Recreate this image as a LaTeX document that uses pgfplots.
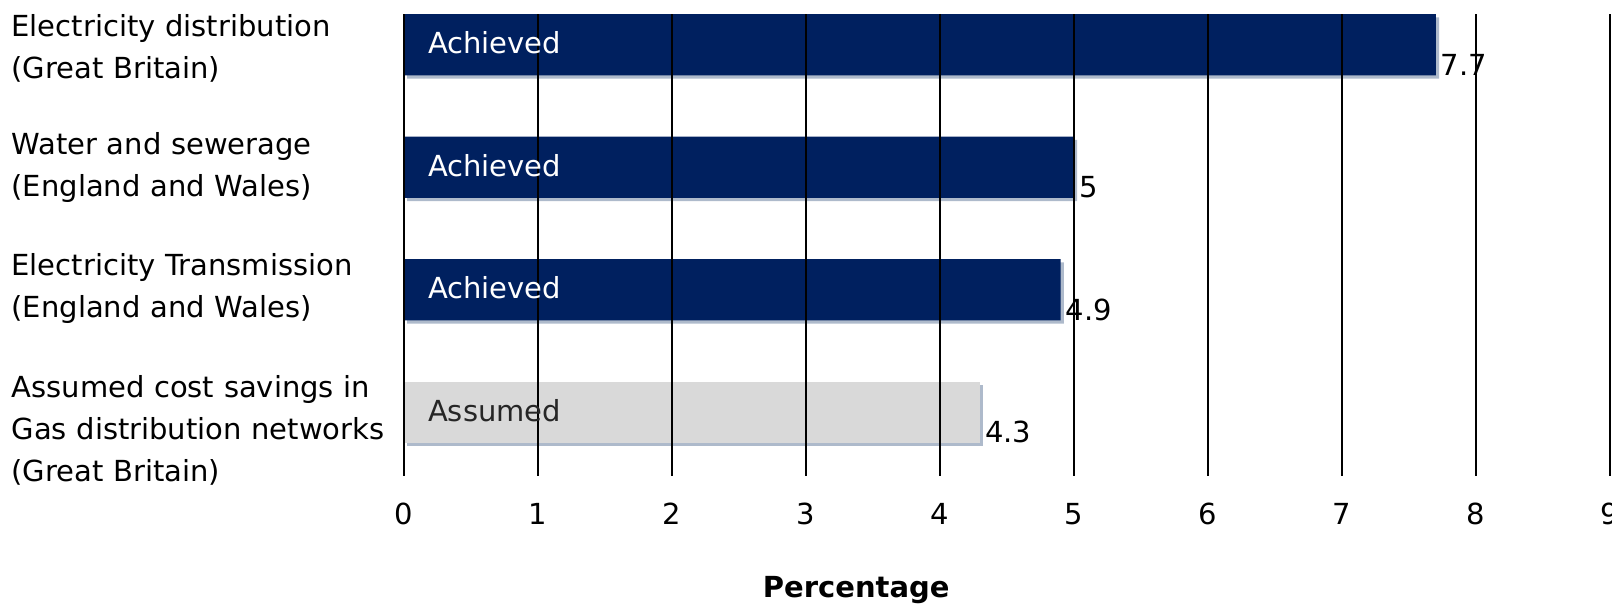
\documentclass[border=0pt]{standalone}
\usepackage{pgfplots}
\pgfplotsset{compat=1.18}
\usepackage{fontspec}
\setmainfont{DejaVu Sans}
\usetikzlibrary{shadows}
\definecolor{navy}{HTML}{00205F}
\definecolor{lgrey}{HTML}{D9D9D9}
\definecolor{shad}{HTML}{AEBACB}
\begin{document}
\begin{tikzpicture}[font=\fontsize{14.5}{17}\selectfont]
\begin{axis}[name=ax, scale only axis, width=603pt, height=231pt,
  xbar, bar width=0.5, xmin=0, xmax=9, ymin=-0.52, ymax=3.252,
  /pgf/number format/assume math mode=true,
  xtick={0,1,...,9}, ytick={-0.15,1.01,2.0,2.97},
  yticklabels={{Assumed cost savings in\\Gas distribution networks\\(Great Britain)},
               {Electricity Transmission\\(England and Wales)},
               {Water and sewerage\\(England and Wales)},
               {Electricity distribution\\(Great Britain)}},
  yticklabel style={align=left, text width=192pt, inner sep=0pt, anchor=east, xshift=-4pt,
                    font=\fontsize{14.5}{21}\selectfont},
  xticklabel style={yshift=-10pt, font=\fontsize{14.5}{17}\selectfont},
  major tick length=0pt,
  axis line style={draw=none},
  xmajorgrids, major grid style={black, line width=0.9pt},
  axis on top,
  xlabel={\bfseries Percentage},
  xlabel style={at={(axis description cs:0.375,0)}, anchor=center, yshift=-57pt, font=\fontsize{14.5}{17}\selectfont},
  nodes near coords,
  nodes near coords style={anchor=west, yshift=-10pt, xshift=-1pt, text=black, font=\fontsize{14.5}{17}\selectfont},
]
\addplot[fill=navy, draw=none, bar shift=0pt,
  drop shadow={shadow xshift=1.6pt, shadow yshift=-1.6pt, fill=shad, opacity=1}]
  coordinates {(7.7,3) (5,2) (4.9,1)};
\addplot[fill=lgrey, draw=none, bar shift=0pt,
  drop shadow={shadow xshift=1.6pt, shadow yshift=-1.6pt, fill=shad, opacity=1}]
  coordinates {(4.3,0)};
\coordinate (o) at (rel axis cs:0,0);
\coordinate (tr) at (rel axis cs:1,1);
\coordinate (l3) at (axis cs:0,3);
\coordinate (l2) at (axis cs:0,2);
\coordinate (l1) at (axis cs:0,1);
\coordinate (l0) at (axis cs:0,0);
\end{axis}
\foreach \c in {l3,l2,l1}{\node[anchor=west, text=white, xshift=8.5pt, yshift=1pt] at (\c) {Achieved};}
\node[anchor=west, text=black!85, xshift=8.5pt, yshift=1pt] at (l0) {Assumed};
\pgfresetboundingbox
\path ([xshift=-202pt, yshift=-64pt]o) rectangle ([xshift=1pt, yshift=7pt]tr);
\end{tikzpicture}
\end{document}
